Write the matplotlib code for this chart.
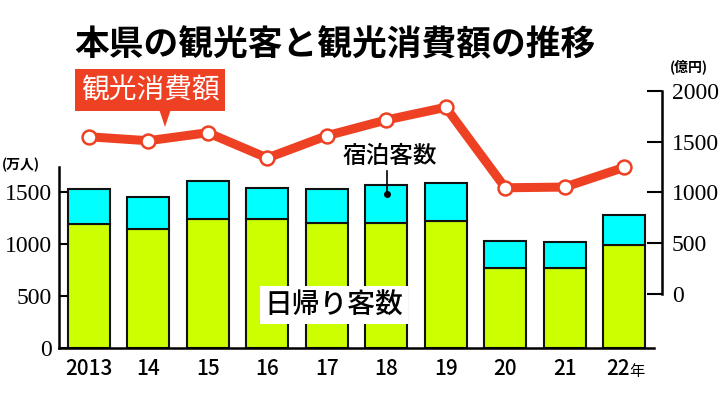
import numpy as np
import matplotlib
matplotlib.use("Agg")
import matplotlib.pyplot as plt
from matplotlib.patches import Polygon
from matplotlib.transforms import ScaledTranslation

plt.rcParams['font.family'] = ['Noto Sans CJK JP', 'DejaVu Sans']
SERIF = 'Liberation Serif'

# ===========================
# Dados
# ===========================
anos = ['2013', '14', '15', '16', '17', '18', '19', '20', '21', '22']
higaeri = [1195, 1150, 1240, 1240, 1202, 1202, 1221, 769, 769, 993]      # 日帰り客数 (万人)
shukuhaku = [334, 305, 366, 304, 333, 365, 371, 260, 253, 286]           # 宿泊客数 (万人)
shohi = [1548, 1509, 1588, 1339, 1558, 1713, 1838, 1046, 1053, 1247]     # 観光消費額 (億円)
ticks_esq = [0, 500, 1000, 1500]
ticks_dir = [0, 500, 1000, 1500, 2000]

VERDE = '#ccff00'
CIANO = '#00ffff'
VERMELHO = '#ee4123'

W, H = 721, 399
fig = plt.figure(figsize=(W / 100, H / 100), dpi=100)

def fx(px):
    return px / W

def fy(py):
    return 1 - py / H

# eixo principal (barras)
ax = fig.add_axes([fx(59), fy(348.3), fx(654) - fx(59), (348.3 - 80) / H])
ax.set_xlim(-0.5, 9.5)
ax.set_ylim(0, 268.3 / 0.104)
x = np.arange(len(anos))
ax.bar(x, higaeri, width=0.71, color=VERDE, edgecolor='#111111', linewidth=1.5, zorder=2)
ax.bar(x, shukuhaku, bottom=higaeri, width=0.71, color=CIANO, edgecolor='#111111', linewidth=1.5, zorder=2)

for s in ['top', 'right']:
    ax.spines[s].set_visible(False)
ax.spines['left'].set_bounds(0, 1745)
ax.spines['left'].set_linewidth(1.8)
ax.spines['bottom'].set_linewidth(1.8)
ax.tick_params(axis='y', direction='in', length=7, width=1.5, pad=5)
ax.set_yticks(ticks_esq, labels=[str(v) for v in ticks_esq], fontfamily=SERIF, fontsize=17)
ax.set_xticks(x, labels=anos, fontsize=15, fontweight='medium')
ax.tick_params(axis='x', length=0, pad=7)
ultimo = ax.get_xticklabels()[-1]
ultimo.set_transform(ultimo.get_transform() + ScaledTranslation(-0.06, 0, fig.dpi_scale_trans))
ax.text(9.5 - 0.42, -0.055, '年', transform=ax.get_xaxis_transform(), fontsize=11,
        ha='left', va='top')

# eixo secundário (linha)
ax2 = ax.twinx()
ax2.set_ylim(-534, -534 + 268.3 / 0.1016)
for s in ['top', 'left', 'bottom']:
    ax2.spines[s].set_visible(False)
ax2.spines['right'].set_position(('outward', 6))
ax2.spines['right'].set_bounds(0, 2000)
ax2.spines['right'].set_linewidth(1.8)
ax2.tick_params(axis='y', direction='in', length=11, width=1.5, pad=7)
ax2.set_yticks(ticks_dir, labels=[str(v) for v in ticks_dir], fontfamily=SERIF, fontsize=17)
ax2.plot(x, shohi, color=VERMELHO, linewidth=6.5, marker='o', markersize=10,
         markerfacecolor='white', markeredgecolor=VERMELHO, markeredgewidth=1.8,
         solid_joinstyle='round', zorder=3)

# ===========================
# Textos
# ===========================
fig.text(fx(74), fy(45), '本県の観光客と観光消費額の推移', fontsize=25,
         fontweight='bold', ha='left', va='center')
fig.text(fx(2), fy(165), '(万人)', fontsize=10, fontweight='bold', ha='left', va='center')
fig.text(fx(670), fy(67), '(億円)', fontsize=10, fontweight='bold', ha='left', va='center')

# etiqueta 観光消費額
fig.text(fx(150), fy(90), '観光消費額', fontsize=20, color='white', ha='center', va='center',
         bbox=dict(boxstyle='square,pad=0.2', facecolor=VERMELHO, edgecolor='none'))
fig.patches.append(Polygon([[fx(158), fy(106)], [fx(172), fy(106)], [fx(165), fy(127)]],
                           closed=True, transform=fig.transFigure, facecolor=VERMELHO,
                           edgecolor='none'))

# 宿泊客数
fig.text(fx(390), fy(157), '宿泊客数', fontsize=17, fontweight='medium', ha='center', va='center')
fig.lines.append(plt.Line2D([fx(387), fx(387)], [fy(171), fy(193)], transform=fig.transFigure,
                            color='black', linewidth=1.2))
fig.lines.append(plt.Line2D([fx(387)], [fy(194)], transform=fig.transFigure, color='black',
                            marker='o', markersize=4))

# 日帰り客数
fig.text(fx(334), fy(305), '日帰り客数', fontsize=20, fontweight='medium', ha='center', va='center',
         bbox=dict(boxstyle='square,pad=0.15', facecolor='white', edgecolor='none'))

fig.savefig('out.png', dpi=100)
